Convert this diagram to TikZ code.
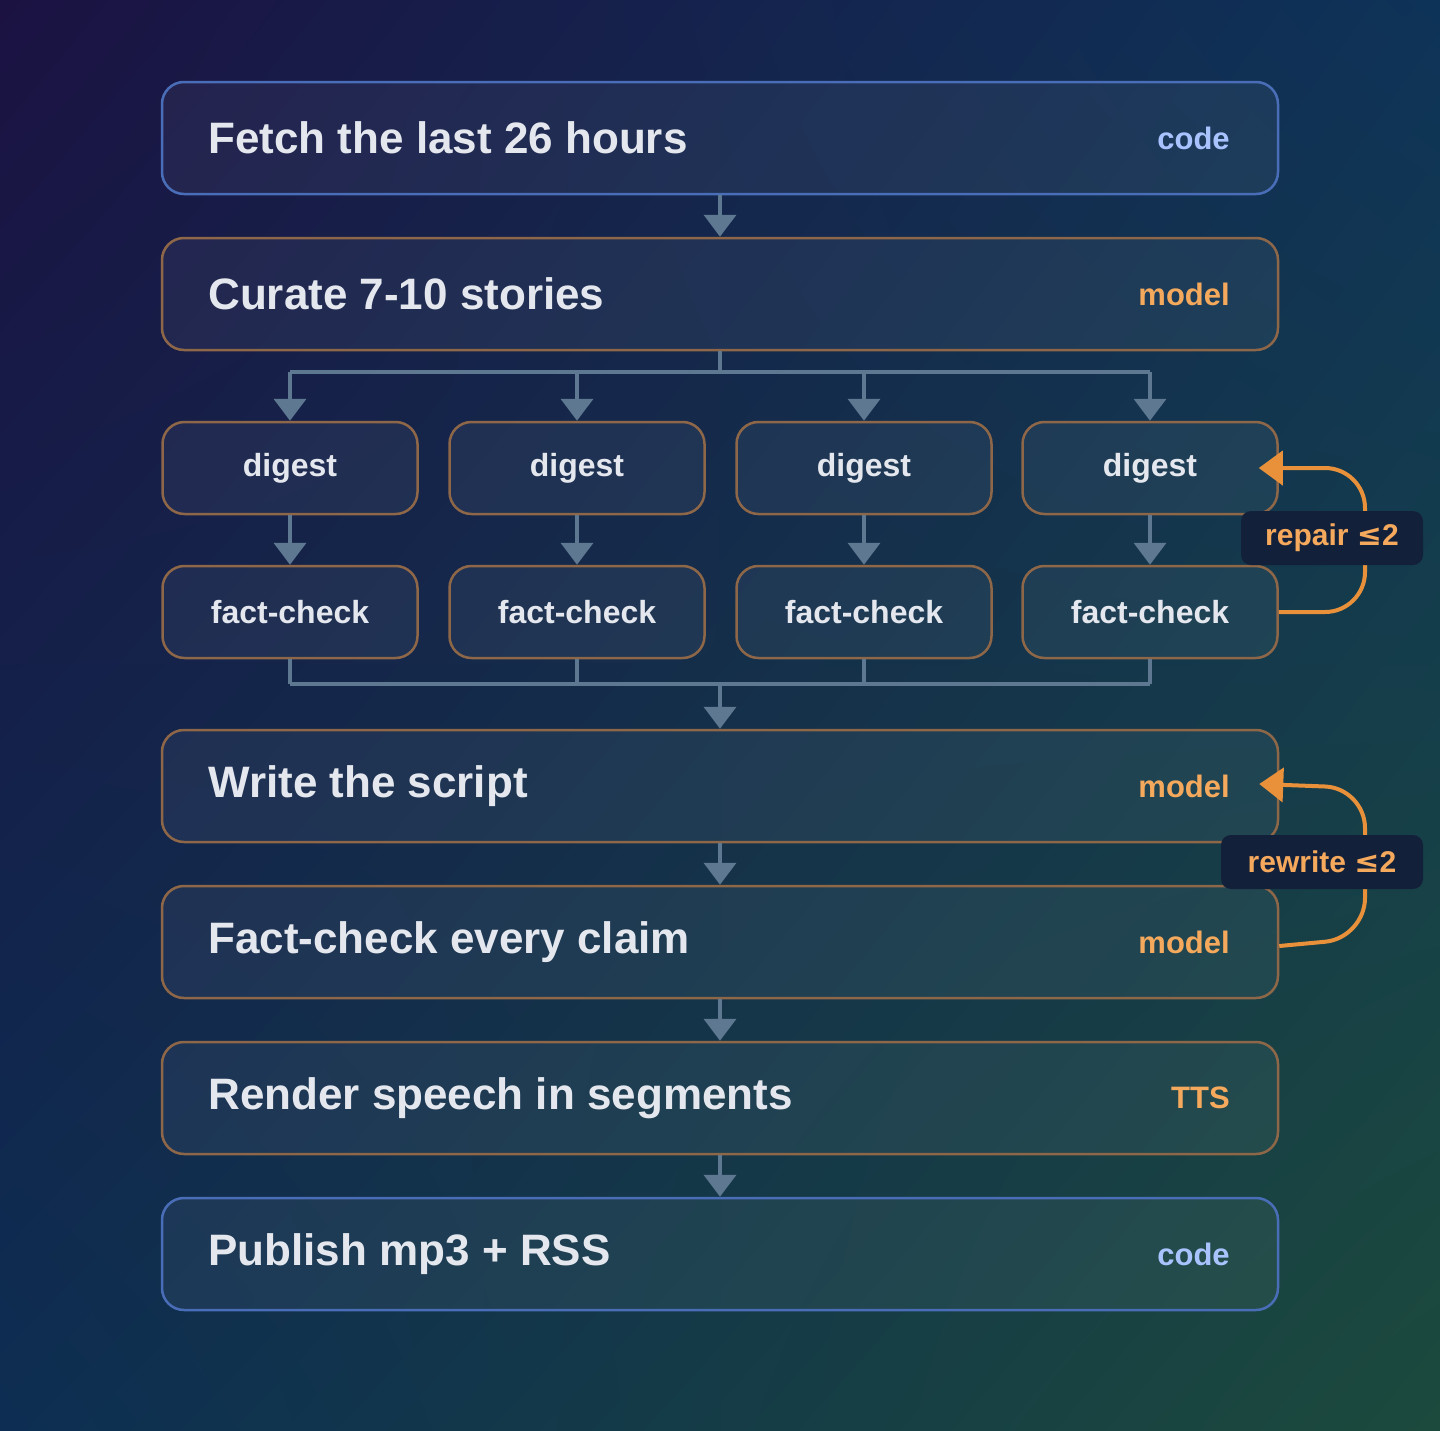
\documentclass[tikz,border=0pt]{standalone}
\usepackage{fontspec}
\setmainfont{Liberation Sans}
\newfontfamily\symf{DejaVu Sans}
\usetikzlibrary{positioning,arrows.meta,shadings}
\definecolor{bgtl}{HTML}{1B1242}
\definecolor{bgtr}{HTML}{0E3358}
\definecolor{bgbl}{HTML}{0D2E52}
\definecolor{bgbr}{HTML}{1C4A3C}
\definecolor{txt}{HTML}{E4E8EE}
\definecolor{codec}{HTML}{A9C3FF}
\definecolor{modelc}{HTML}{F5A95C}
\definecolor{bluebd}{HTML}{4A6DB8}
\definecolor{brownbd}{HTML}{8E6748}
\definecolor{arrowc}{HTML}{5E7891}
\definecolor{loopc}{HTML}{E8913A}
\definecolor{tagbg}{HTML}{13203A}
\newcommand{\atmost}{{\symf\bfseries ≤}}
\tikzset{
  box/.style={draw, line width=2.5pt, rounded corners=22pt, fill=white, fill opacity=0.05,
    text opacity=1, minimum width=1116pt, minimum height=112pt},
  small/.style={draw=brownbd, line width=2.5pt, rounded corners=22pt, fill=white, fill opacity=0.05,
    text opacity=1, minimum width=255pt, minimum height=92pt, text=txt,
    font=\fontsize{32}{36}\selectfont\bfseries},
  big/.style={anchor=west, text=txt, font=\fontsize{44}{50}\selectfont\bfseries},
  tag/.style={anchor=east, font=\fontsize{31}{34}\selectfont\bfseries},
  flow/.style={draw=arrowc, line width=4pt, -{Triangle[length=22pt,width=32pt]}},
  link/.style={draw=arrowc, line width=4pt},
  loop/.style={draw=loopc, line width=4pt, rounded corners=40pt, -{Triangle[length=24pt,width=34pt]}},
  loopbox/.style={fill=tagbg, rounded corners=10pt, text=modelc, minimum height=54pt,
    font=\fontsize{30}{34}\selectfont\bfseries}
}
\begin{document}
\begin{tikzpicture}[x=1pt,y=-1pt]
  \shade[upper left=bgtl, upper right=bgtr, lower left=bgbl, lower right=bgbr] (0,0) rectangle (1440,1430);
  \useasboundingbox (0,0) rectangle (1440,1430);
  % main steps
  \node[box, draw=bluebd]  (fetch)   at (720,138)  {};
  \node[box, draw=brownbd] (curate)  at (720,294)  {};
  \node[box, draw=brownbd] (write)   at (720,786)  {};
  \node[box, draw=brownbd] (check)   at (720,942)  {};
  \node[box, draw=brownbd] (render)  at (720,1098) {};
  \node[box, draw=bluebd]  (publish) at (720,1254) {};
  \foreach \n/\t/\k/\c in {fetch/Fetch the last 26 hours/code/codec,
      curate/Curate 7-10 stories/model/modelc,
      write/Write the script/model/modelc,
      check/Fact-check every claim/model/modelc,
      render/Render speech in segments/TTS/modelc,
      publish/Publish mp3 + RSS/code/codec}{
    \node[big] (\n-t) at ([xshift=44pt]\n.west) {\t};
    \node[tag, text=\c] (\n-k) at ([xshift=-46pt]\n.east) {\k};}
  % parallel stories
  \foreach \i/\x in {1/290,2/577,3/864,4/1150}{
    \node[small] (dg\i) at (\x,468) {digest};
    \node[small] (fc\i) at (\x,612) {fact-check};
    \draw[flow] (dg\i) -- (fc\i);}
  \coordinate (split) at (720,372);
  \coordinate (join) at (720,684);
  \draw[link] (curate) -- (split);
  \draw[link] (split -| dg1) -- (split -| dg4);
  \foreach \i in {1,...,4}{
    \draw[flow] (split -| dg\i) -- (dg\i);
    \draw[link] (fc\i) -- (join -| fc\i);}
  \draw[link] (join -| fc1) -- (join -| fc4);
  \draw[flow] (join) -- (write);
  \draw[flow] (fetch) -- (curate);
  \draw[flow] (write) -- (check);
  \draw[flow] (check) -- (render);
  \draw[flow] (render) -- (publish);
  % retry loops
  \draw[loop] (fc4.east) -- (1365,612) -- (1365,468) -- ([xshift=-20pt]dg4.east);
  \node[loopbox, minimum width=182pt] (repair) at (1332,538) {repair \atmost2};
  \draw[loop] ([yshift=-4pt]check.east) -- (1365,938) -- (1365,788) -- ([xshift=-20pt,yshift=2pt]write.east);
  \node[loopbox, minimum width=202pt] (rewrite) at (1322,862) {rewrite \atmost2};
\end{tikzpicture}
\end{document}
